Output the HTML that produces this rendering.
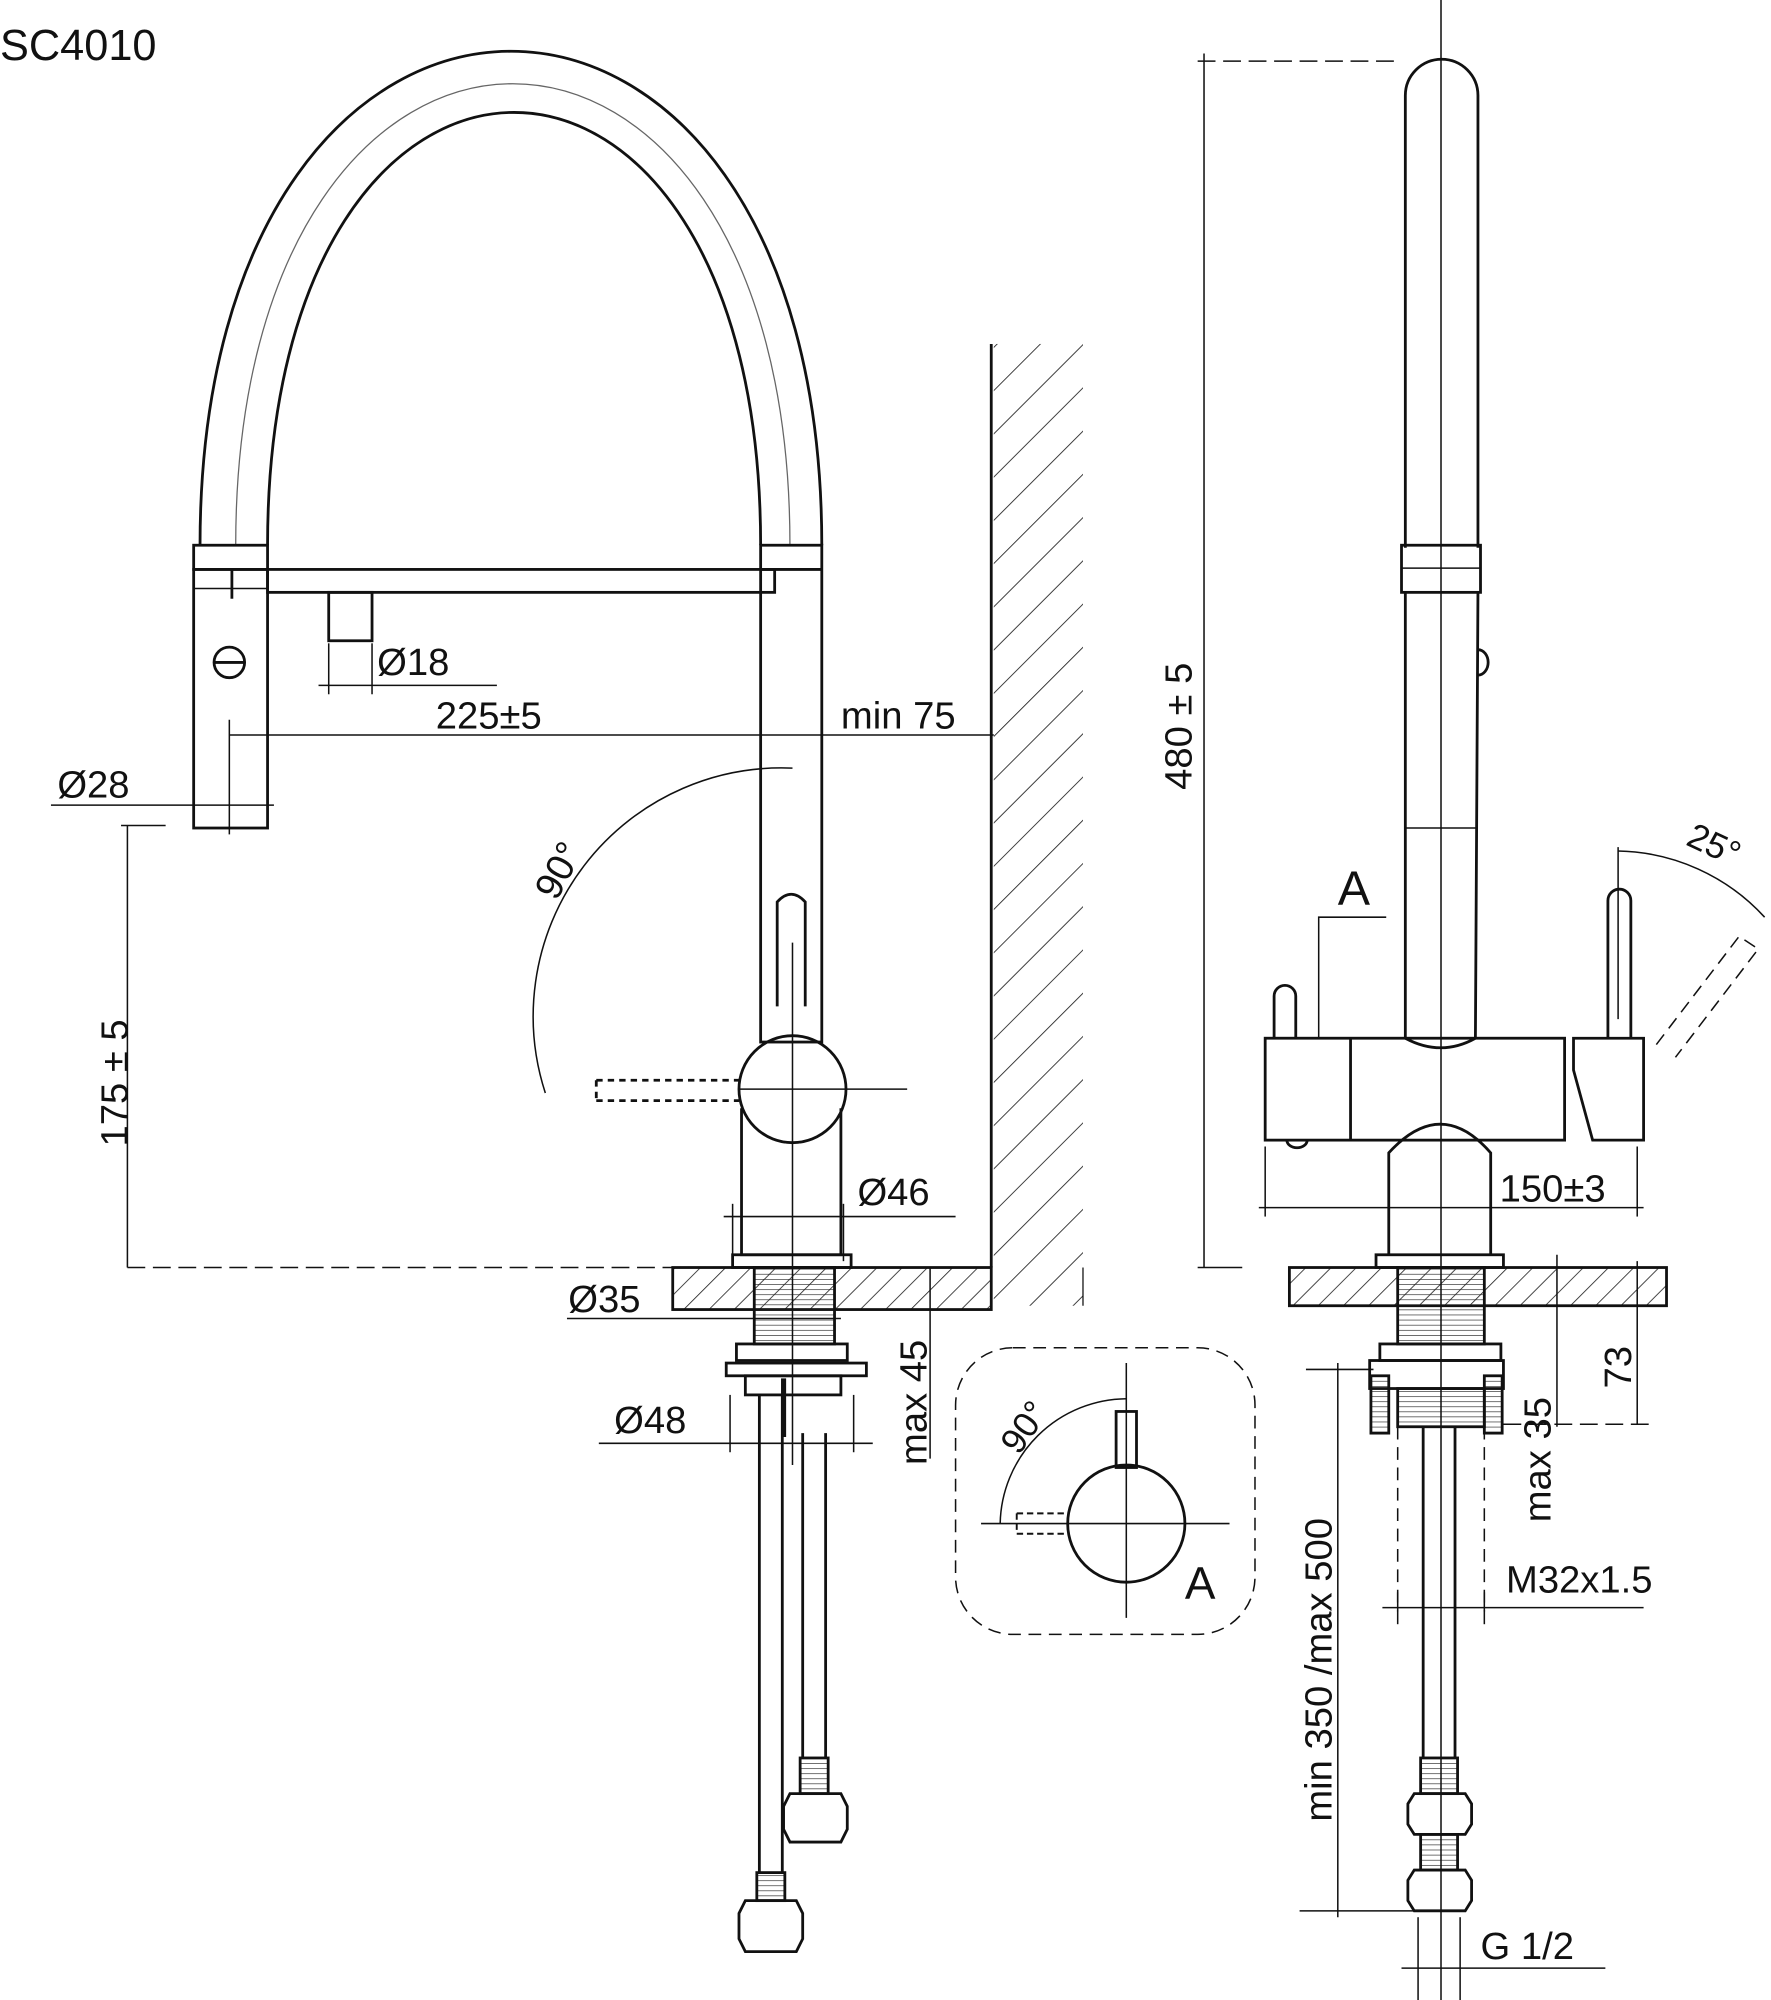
<!DOCTYPE html>
<html><head><meta charset="utf-8"><style>
html,body{margin:0;padding:0;background:#fff}
svg{display:block}
text{font-family:"Liberation Sans",sans-serif;fill:#111}
</style></head><body>
<svg width="1771" height="2000" viewBox="0 0 1390 1570" preserveAspectRatio="none" xmlns="http://www.w3.org/2000/svg">
<defs>
<pattern id="h" width="14" height="14" patternUnits="userSpaceOnUse" patternTransform="rotate(45)"><line x1="0" y1="0" x2="0" y2="14" stroke="#222" stroke-width="1.3"/></pattern>
<pattern id="w" width="24" height="24" patternUnits="userSpaceOnUse" patternTransform="rotate(-45)"><line x1="0" y1="0" x2="24" y2="0" stroke="#222" stroke-width="1.3"/></pattern>
<pattern id="th" width="6" height="4" patternUnits="userSpaceOnUse"><line x1="0" y1="0" x2="6" y2="0" stroke="#222" stroke-width="1"/></pattern>
</defs>
<g fill="none" stroke="#111" stroke-width="2.2">
<text x="0" y="47" font-size="34" stroke="none">SC4010</text>

<!-- LEFT VIEW -->
<path d="M157 428 C157 -89 645 -89 645 428"/>
<path d="M210 428 C210 -25 597 -25 597 428"/>
<path d="M185 428 C185 -55 620 -55 620 428" stroke-width="1" stroke="#666"/>
<rect x="152" y="428" width="58" height="19"/>
<rect x="152" y="447" width="58" height="203"/>
<line x1="182" y1="447" x2="182" y2="470"/>
<line x1="152" y1="462" x2="210" y2="462" stroke-width="1.2"/>
<circle cx="180" cy="520" r="12"/><line x1="168" y1="520" x2="192" y2="520"/>
<rect x="210" y="447" width="398" height="18"/>
<rect x="258" y="465" width="34" height="38"/>
<rect x="597" y="428" width="48" height="390"/>
<line x1="597" y1="447" x2="645" y2="447"/>
<path d="M610 790 L610 708 Q621 696 632 708 L632 790"/>
<circle cx="622" cy="855" r="42"/>
<path d="M582 870 L582 985 L660 985 L660 870"/>
<rect x="575" y="985" width="93" height="10"/>
<rect x="528" y="995" width="250" height="33" fill="url(#h)"/>
<rect x="592" y="995" width="63" height="60" fill="url(#th)"/>
<rect x="578" y="1055" width="87" height="13"/>
<rect x="570" y="1070" width="110" height="10"/>
<rect x="585" y="1080" width="75" height="15"/>
<line x1="596" y1="1095" x2="596" y2="1470"/><line x1="614" y1="1095" x2="614" y2="1470"/>
<rect x="594" y="1470" width="22" height="22" fill="url(#th)"/>
<path d="M585 1492 h40 l5 10 v20 l-5 10 h-40 l-5 -10 v-20z"/>
<line x1="630" y1="1125" x2="630" y2="1380"/><line x1="648" y1="1125" x2="648" y2="1380"/>
<rect x="628" y="1380" width="22" height="28" fill="url(#th)"/>
<path d="M620 1408 h40 l5 10 v18 l-5 10 h-40 l-5 -10 v-18z"/>
<line x1="615" y1="1082" x2="615" y2="1128" stroke-width="4"/>
<path d="M468 848 h112 M468 864 h112 M468 848 v16" stroke-dasharray="5 4"/>
<path d="M428 858 A195 195 0 0 1 622 603" stroke-width="1.2"/>
<text x="420" y="700" font-size="30" stroke="none" transform="rotate(-62 435 690)">90°</text>
<line x1="778" y1="270" x2="778" y2="995"/>
<rect x="780" y="270" width="70" height="755" fill="url(#w)" stroke="none"/>
<line x1="850" y1="995" x2="850" y2="1025" stroke-width="1"/>
<g stroke-width="1.2">
<line x1="580" y1="855" x2="712" y2="855"/><line x1="622" y1="740" x2="622" y2="1150"/>
<line x1="180" y1="565" x2="180" y2="655"/>
<line x1="180" y1="577" x2="780" y2="577"/>
<text x="342" y="572" font-size="30" stroke="none">225±5</text>
<text x="660" y="572" font-size="30" stroke="none">min 75</text>
<line x1="258" y1="505" x2="258" y2="545"/><line x1="292" y1="505" x2="292" y2="545"/>
<line x1="250" y1="538" x2="390" y2="538"/>
<text x="296" y="530" font-size="30" stroke="none">Ø18</text>
<line x1="40" y1="632" x2="215" y2="632"/>
<text x="45" y="626" font-size="30" stroke="none">Ø28</text>
<path d="M95 648 H130 M100 648 V995" />
<path d="M100 995 H575" stroke-dasharray="14 6"/>
<text x="100" y="900" font-size="30" stroke="none" transform="rotate(-90 100 900)">175 ± 5</text>
<line x1="568" y1="955" x2="750" y2="955"/>
<line x1="575" y1="945" x2="575" y2="990"/><line x1="662" y1="945" x2="662" y2="990"/>
<text x="673" y="946" font-size="30" stroke="none">Ø46</text>
<line x1="445" y1="1035" x2="660" y2="1035"/>
<text x="446" y="1030" font-size="30" stroke="none">Ø35</text>
<line x1="470" y1="1133" x2="685" y2="1133"/>
<line x1="573" y1="1095" x2="573" y2="1140"/><line x1="670" y1="1095" x2="670" y2="1140"/>
<text x="482" y="1125" font-size="30" stroke="none">Ø48</text>
<line x1="730" y1="995" x2="730" y2="1145"/>
<text x="727" y="1150" font-size="30" stroke="none" transform="rotate(-90 727 1150)">max 45</text>
</g>

<rect x="750" y="1058" width="235" height="225" rx="45" stroke-width="1.2" stroke-dasharray="10 6"/>
<circle cx="884" cy="1196" r="46"/>
<rect x="876" y="1108" width="16" height="44"/>
<path d="M798 1188 h40 M798 1204 h40 M798 1188 v16" stroke-dasharray="5 3" stroke-width="1.5"/>
<g stroke-width="1.2"><line x1="770" y1="1196" x2="965" y2="1196"/><line x1="884" y1="1070" x2="884" y2="1270"/>
<path d="M785 1196 A100 100 0 0 1 884 1098"/></g>
<text x="785" y="1135" font-size="28" stroke="none" transform="rotate(-55 800 1125)">90°</text>
<text x="930" y="1255" font-size="36" stroke="none">A</text>

<path d="M1103 430 V75 A28 28 0 0 1 1160 75 V430"/>
<rect x="1100" y="428" width="62" height="37"/>
<line x1="1100" y1="446" x2="1162" y2="446" stroke-width="1.2"/>
<path d="M1103 465 L1103 815 M1160 465 L1158 815"/>
<path d="M1103 650 L1160 650" stroke-width="1.2"/>
<path d="M1160 510 a8 10 0 0 1 0 20"/>
<rect x="993" y="815" width="235" height="80"/>
<line x1="1060" y1="815" x2="1060" y2="895"/>
<path d="M1103 815 Q1131 830 1158 815"/>
<path d="M1000 815 V782 A8 8 0 0 1 1017 782 V815"/>
<path d="M1262 815 V707 A9 9 0 0 1 1280 707 V815"/>
<path d="M1235 815 L1290 815 L1290 895 L1250 895 L1235 840 Z"/>
<path d="M1090 985 V905 Q1131 860 1170 905 V985"/>
<path d="M1010 895 a8 6 0 0 0 16 0"/>
<rect x="1080" y="985" width="100" height="10"/>
<rect x="1012" y="995" width="296" height="30" fill="url(#h)"/>
<rect x="1097" y="995" width="68" height="60" fill="url(#th)"/>
<rect x="1083" y="1055" width="95" height="13"/>
<rect x="1075" y="1068" width="105" height="22"/>
<rect x="1076" y="1080" width="14" height="45" fill="url(#th)"/>
<rect x="1165" y="1080" width="14" height="45" fill="url(#th)"/>
<rect x="1097" y="1090" width="68" height="30" fill="url(#th)"/>
<line x1="1117" y1="1120" x2="1117" y2="1380"/><line x1="1142" y1="1120" x2="1142" y2="1380"/>
<rect x="1115" y="1380" width="29" height="28" fill="url(#th)"/>
<path d="M1110 1408 h40 l5 8 v16 l-5 8 h-40 l-5 -8 v-16z"/>
<rect x="1115" y="1440" width="29" height="28" fill="url(#th)"/>
<path d="M1110 1468 h40 l5 8 v16 l-5 8 h-40 l-5 -8 v-16z"/>
<path d="M1097 1120 V1265 M1165 1120 V1265" stroke-width="1.2" stroke-dasharray="10 6"/>
<path d="M1300 820 L1365 735 L1380 745 L1315 830" stroke-width="1.2" stroke-dasharray="10 6"/>
<g stroke-width="1.2">
<line x1="1131" y1="0" x2="1131" y2="1570"/>
<line x1="940" y1="48" x2="1100" y2="48" stroke-dasharray="14 6"/>
<line x1="940" y1="995" x2="975" y2="995"/>
<line x1="945" y1="42" x2="945" y2="995"/>
<text x="935" y="620" font-size="30" stroke="none" transform="rotate(-90 935 620)">480 ± 5</text>
<path d="M1035 815 V720 H1088"/>
<text x="1050" y="710" font-size="38" stroke="none">A</text>
<line x1="1270" y1="665" x2="1270" y2="800"/>
<path d="M1270 668 A160 160 0 0 1 1385 720"/>
<text x="1325" y="670" font-size="28" stroke="none" transform="rotate(25 1340 660)">25°</text>
<line x1="988" y1="948" x2="1290" y2="948"/>
<line x1="993" y1="900" x2="993" y2="955"/><line x1="1285" y1="900" x2="1285" y2="955"/>
<text x="1177" y="943" font-size="30" stroke="none">150±3</text>
<line x1="1180" y1="1118" x2="1300" y2="1118" stroke-dasharray="14 6"/>
<line x1="1222" y1="985" x2="1222" y2="1120"/>
<line x1="1285" y1="990" x2="1285" y2="1118"/>
<text x="1280" y="1090" font-size="30" stroke="none" transform="rotate(-90 1280 1090)">73</text>
<text x="1217" y="1195" font-size="30" stroke="none" transform="rotate(-90 1217 1195)">max 35</text>
<line x1="1025" y1="1075" x2="1078" y2="1075"/>
<line x1="1020" y1="1500" x2="1110" y2="1500"/>
<line x1="1050" y1="1070" x2="1050" y2="1505"/>
<text x="1045" y="1430" font-size="30" stroke="none" transform="rotate(-90 1045 1430)">min 350 /max 500</text>
<line x1="1085" y1="1262" x2="1290" y2="1262"/>
<line x1="1097" y1="1250" x2="1097" y2="1275"/><line x1="1165" y1="1250" x2="1165" y2="1275"/>
<text x="1182" y="1250" font-size="30" stroke="none">M32x1.5</text>
<line x1="1100" y1="1545" x2="1260" y2="1545"/>
<line x1="1113" y1="1505" x2="1113" y2="1570"/><line x1="1146" y1="1505" x2="1146" y2="1570"/>
<text x="1162" y="1538" font-size="30" stroke="none">G 1/2</text>
</g>
</g>
</svg>
</body></html>
